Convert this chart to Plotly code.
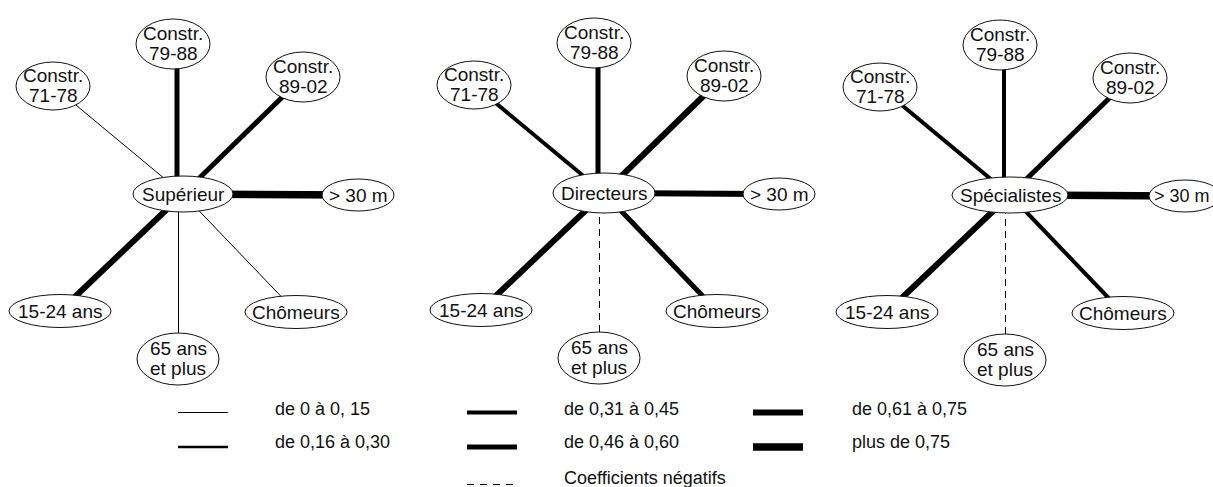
import plotly.graph_objects as go

# ---------------- data ----------------
panels = ["Supérieur", "Directeurs", "Spécialistes"]
node_labels = [
    ["Constr.", "71-78"],
    ["Constr.", "79-88"],
    ["Constr.", "89-02"],
    ["> 30 m"],
    ["15-24 ans"],
    ["65 ans", "et plus"],
    ["Chômeurs"],
]
# estimated coefficient (class read from line thickness; negative = dashed)
coef_superieur = [0.10, 0.53, 0.53, 0.80, 0.68, 0.10, 0.10]
coef_directeurs = [0.38, 0.53, 0.68, 0.68, 0.68, -0.10, 0.53]
coef_specialistes = [0.38, 0.38, 0.53, 0.80, 0.68, -0.10, 0.38]
coefs = [coef_superieur, coef_directeurs, coef_specialistes]

class_bounds = [0.15, 0.30, 0.45, 0.60, 0.75]
legend_labels = ["de 0 à 0, 15", "de 0,16 à 0,30", "de 0,31 à 0,45",
                 "de 0,46 à 0,60", "de 0,61 à 0,75", "plus de 0,75"]
negative_label = "Coefficients négatifs"

# ---------------- layout / style ----------------
W, H = 1213, 487
FONT = "Liberation Sans, Arial, sans-serif"
class_widths = [1, 2.5, 4, 5, 6, 7.5]
hub_pos = [(183, 194), (604, 193), (1010, 195)]
hub_r = [(50, 18), (51, 20), (58, 18)]
node_off = [(-130, -108), (-10, -150), (120, -117), (175, 1), (-123, 117), (-5, 165), (113, 118)]
node_r = [(37, 24), (37, 25), (37, 25), (36, 16), (51, 16.5), (41, 26), (51, 16.5)]
# line anchor shifts (hub side x, node side x) to keep vertical links vertical
line_shift = [(0, 0), (-6, 4), (0, 0), (0, 0), (0, 0), (-4.5, 0.5), (0, 0)]
label_dy = {1: [0], 2: [-11, 9]}


def width_of(c):
    k = 0
    while k < len(class_bounds) and abs(c) > class_bounds[k]:
        k += 1
    return class_widths[k]


fig = go.Figure()
shapes = []
annos = []


def ellipse(cx, cy, rx, ry):
    shapes.append(dict(type="circle", xref="x", yref="y", x0=cx - rx, x1=cx + rx,
                       y0=cy - ry, y1=cy + ry, fillcolor="white",
                       line=dict(color="#111", width=1), layer="above"))


def text(x, y, s, anchor="center", size=19):
    annos.append(dict(x=x, y=y, xref="x", yref="y", text=s, showarrow=False,
                      xanchor=anchor, yanchor="middle",
                      font=dict(family=FONT, size=size, color="#111")))


for p, name in enumerate(panels):
    hx, hy = hub_pos[p]
    for i, lab in enumerate(node_labels):
        nx, ny = hx + node_off[i][0], hy + node_off[i][1]
        c = coefs[p][i]
        sa, sb = line_shift[i]
        dash = "7px,5px" if c < 0 else "solid"
        w = 1 if c < 0 else width_of(c)
        fig.add_trace(go.Scatter(x=[hx + sa, nx + sb], y=[hy, ny], mode="lines",
                                 line=dict(color="#000", width=w, dash=dash),
                                 hoverinfo="skip", showlegend=False))
        rx, ry = node_r[i]
        ellipse(nx, ny, rx, ry)
        for dy, line in zip(label_dy[len(lab)], lab):
            if nx + 30 > W:  # keep the label inside the page at the right edge
                text(W - 1, ny + dy, line, anchor="right", size=18)
            else:
                text(nx, ny + dy, line)
    ellipse(hx, hy, *hub_r[p])
    text(hx, hy, name)

# legend
leg_line_x = [178, 467, 753]
leg_text_x = [273, 562, 850]
leg_line_y = [412.5, 447, 484.5]
leg_text_y = [409, 442, 478]
for k, lab in enumerate(legend_labels):
    col, row = k // 2, k % 2
    x0 = leg_line_x[col]
    fig.add_trace(go.Scatter(x=[x0, x0 + 50], y=[leg_line_y[row]] * 2, mode="lines",
                             line=dict(color="#000", width=class_widths[k]),
                             hoverinfo="skip", showlegend=False))
    text(leg_text_x[col], leg_text_y[row], lab, anchor="left", size=18)
fig.add_trace(go.Scatter(x=[leg_line_x[1], leg_line_x[1] + 50], y=[leg_line_y[2]] * 2,
                         mode="lines", line=dict(color="#000", width=1, dash="7px,6px"),
                         hoverinfo="skip", showlegend=False))
text(leg_text_x[1], leg_text_y[2], negative_label, anchor="left", size=18)

fig.update_layout(
    width=W, height=H, margin=dict(l=0, r=0, t=0, b=0),
    paper_bgcolor="white", plot_bgcolor="white",
    xaxis=dict(range=[0, W], visible=False, fixedrange=True),
    yaxis=dict(range=[H, 0], visible=False, fixedrange=True),
    shapes=shapes, annotations=annos, showlegend=False,
)
fig.write_html("out.html", config={"displayModeBar": False},
               post_script="document.body.style.margin='0';document.body.style.overflow='hidden';")
